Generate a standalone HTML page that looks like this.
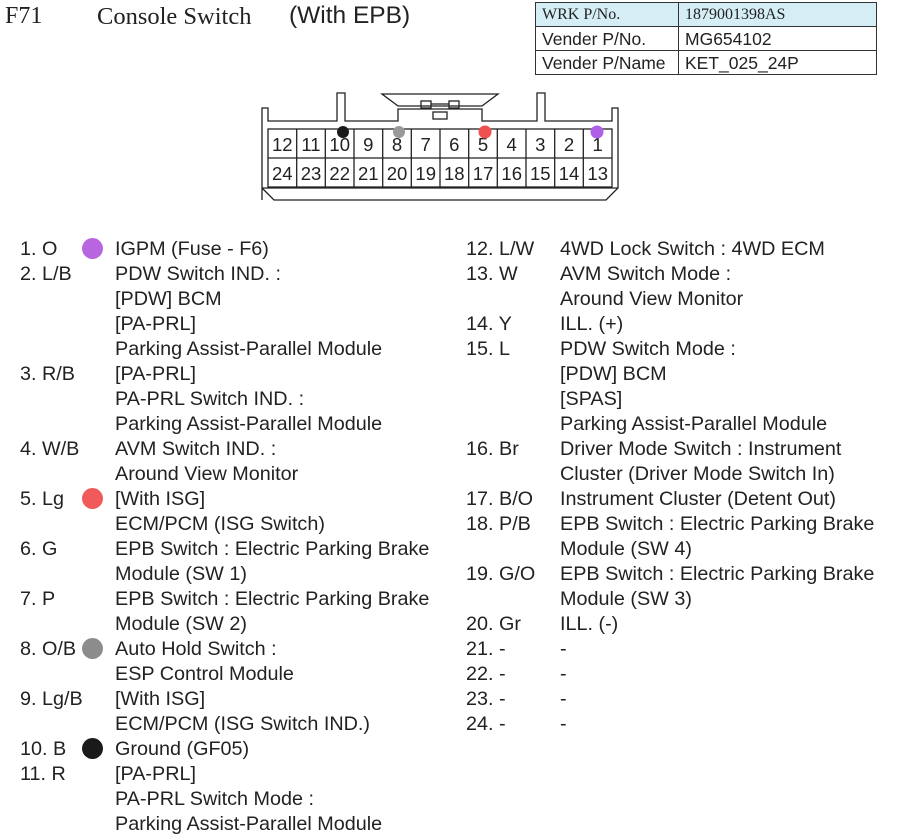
<!DOCTYPE html>
<html><head><meta charset="utf-8">
<style>
html,body{margin:0;padding:0;background:#fff;}
body{width:897px;height:837px;position:relative;overflow:hidden;font-family:"Liberation Sans",Arial,sans-serif;color:#222;}
.a{position:absolute;white-space:nowrap;}
.l{position:absolute;font-size:19.8px;line-height:25px;height:25px;white-space:nowrap;}
.dot{position:absolute;width:21px;height:21px;border-radius:50%;}
table{position:absolute;left:535px;top:2px;border-collapse:collapse;}
td{border:1px solid #333;height:23px;padding:0 0 0 6px;font-size:17.5px;line-height:20px;}
</style></head><body>
<div class="a" style="left:5px;top:3px;font-family:'Liberation Serif',serif;font-size:24px;">F71</div>
<div class="a" style="left:97px;top:3px;font-family:'Liberation Serif',serif;font-size:24.5px;">Console Switch</div>
<div class="a" style="left:289px;top:2px;font-size:24.5px;">(With EPB)</div>
<table>
<tr style="background:#d5eef6"><td style="width:136px;font-family:'Liberation Serif',serif;font-size:16px;">WRK P/No.</td><td style="width:191px;font-family:'Liberation Serif',serif;font-size:16px;">1879001398AS</td></tr>
<tr><td>Vender P/No.</td><td>MG654102</td></tr>
<tr><td>Vender P/Name</td><td>KET_025_24P</td></tr>
</table>
<svg class="a" style="left:0;top:0" width="897" height="220">
<g fill="none" stroke="#222" stroke-width="1.3">
<path d="M262,200 V108 H268 V121 H337 V93 H345 V121 H398 V109 H482 V121 H537 V93 H545 V121 H612 V108 H618 V188 L606,200 H274 L262,188"/>
<path d="M262,188 H618"/>
<path d="M382,94 H498 L482,106 H398 Z"/>
<rect x="421" y="101" width="10" height="7"/><rect x="449" y="101" width="10" height="7"/>
<path d="M431,104 H449"/>
<rect x="433" y="112" width="14" height="7"/>
<rect x="268" y="129" width="344" height="58"/>
<path d="M268,158 H612"/>
<path d="M296.7,129 V187 M325.3,129 V187 M354,129 V187 M382.7,129 V187 M411.3,129 V187 M440,129 V187 M468.7,129 V187 M497.3,129 V187 M526,129 V187 M554.7,129 V187 M583.3,129 V187"/>
</g>
<g font-family="Liberation Sans, Arial, sans-serif" font-size="18.5" fill="#222" text-anchor="middle">
<text x="282.3" y="151">12</text><text x="311" y="151">11</text><text x="339.7" y="151">10</text><text x="368.3" y="151">9</text><text x="397" y="151">8</text><text x="425.7" y="151">7</text><text x="454.3" y="151">6</text><text x="483" y="151">5</text><text x="511.7" y="151">4</text><text x="540.3" y="151">3</text><text x="569" y="151">2</text><text x="597.7" y="151">1</text>
<text x="282.3" y="180">24</text><text x="311" y="180">23</text><text x="339.7" y="180">22</text><text x="368.3" y="180">21</text><text x="397" y="180">20</text><text x="425.7" y="180">19</text><text x="454.3" y="180">18</text><text x="483" y="180">17</text><text x="511.7" y="180">16</text><text x="540.3" y="180">15</text><text x="569" y="180">14</text><text x="597.7" y="180">13</text>
</g>
<circle cx="343" cy="132" r="6" fill="#1a1a1a"/>
<circle cx="399" cy="132" r="6" fill="#999"/>
<circle cx="485" cy="132" r="6.5" fill="#f05050"/>
<circle cx="597" cy="132" r="6.5" fill="#b060e8"/>
</svg>

<div class="dot" style="left:82px;top:238px;background:#b865e0"></div>
<div class="dot" style="left:82px;top:488px;background:#f05a5a"></div>
<div class="dot" style="left:82px;top:638px;background:#8c8c8c"></div>
<div class="dot" style="left:82px;top:738px;background:#1a1a1a"></div>

<div class="l" style="left:20px;top:237px">1. O</div><div class="l" style="left:115px;top:237px">IGPM (Fuse - F6)</div>
<div class="l" style="left:20px;top:262px">2. L/B</div><div class="l" style="left:115px;top:262px">PDW Switch IND. :</div>
<div class="l" style="left:115px;top:287px">[PDW] BCM</div>
<div class="l" style="left:115px;top:312px">[PA-PRL]</div>
<div class="l" style="left:115px;top:337px">Parking Assist-Parallel Module</div>
<div class="l" style="left:20px;top:362px">3. R/B</div><div class="l" style="left:115px;top:362px">[PA-PRL]</div>
<div class="l" style="left:115px;top:387px">PA-PRL Switch IND. :</div>
<div class="l" style="left:115px;top:412px">Parking Assist-Parallel Module</div>
<div class="l" style="left:20px;top:437px">4. W/B</div><div class="l" style="left:115px;top:437px">AVM Switch IND. :</div>
<div class="l" style="left:115px;top:462px">Around View Monitor</div>
<div class="l" style="left:20px;top:487px">5. Lg</div><div class="l" style="left:115px;top:487px">[With ISG]</div>
<div class="l" style="left:115px;top:512px">ECM/PCM (ISG Switch)</div>
<div class="l" style="left:20px;top:537px">6. G</div><div class="l" style="left:115px;top:537px">EPB Switch : Electric Parking Brake</div>
<div class="l" style="left:115px;top:562px">Module (SW 1)</div>
<div class="l" style="left:20px;top:587px">7. P</div><div class="l" style="left:115px;top:587px">EPB Switch : Electric Parking Brake</div>
<div class="l" style="left:115px;top:612px">Module (SW 2)</div>
<div class="l" style="left:20px;top:637px">8. O/B</div><div class="l" style="left:115px;top:637px">Auto Hold Switch :</div>
<div class="l" style="left:115px;top:662px">ESP Control Module</div>
<div class="l" style="left:20px;top:687px">9. Lg/B</div><div class="l" style="left:115px;top:687px">[With ISG]</div>
<div class="l" style="left:115px;top:712px">ECM/PCM (ISG Switch IND.)</div>
<div class="l" style="left:20px;top:737px">10. B</div><div class="l" style="left:115px;top:737px">Ground (GF05)</div>
<div class="l" style="left:20px;top:762px">11. R</div><div class="l" style="left:115px;top:762px">[PA-PRL]</div>
<div class="l" style="left:115px;top:787px">PA-PRL Switch Mode :</div>
<div class="l" style="left:115px;top:812px">Parking Assist-Parallel Module</div>

<div class="l" style="left:466px;top:237px">12. L/W</div><div class="l" style="left:560px;top:237px">4WD Lock Switch : 4WD ECM</div>
<div class="l" style="left:466px;top:262px">13. W</div><div class="l" style="left:560px;top:262px">AVM Switch Mode :</div>
<div class="l" style="left:560px;top:287px">Around View Monitor</div>
<div class="l" style="left:466px;top:312px">14. Y</div><div class="l" style="left:560px;top:312px">ILL. (+)</div>
<div class="l" style="left:466px;top:337px">15. L</div><div class="l" style="left:560px;top:337px">PDW Switch Mode :</div>
<div class="l" style="left:560px;top:362px">[PDW] BCM</div>
<div class="l" style="left:560px;top:387px">[SPAS]</div>
<div class="l" style="left:560px;top:412px">Parking Assist-Parallel Module</div>
<div class="l" style="left:466px;top:437px">16. Br</div><div class="l" style="left:560px;top:437px">Driver Mode Switch : Instrument</div>
<div class="l" style="left:560px;top:462px">Cluster (Driver Mode Switch In)</div>
<div class="l" style="left:466px;top:487px">17. B/O</div><div class="l" style="left:560px;top:487px">Instrument Cluster (Detent Out)</div>
<div class="l" style="left:466px;top:512px">18. P/B</div><div class="l" style="left:560px;top:512px">EPB Switch : Electric Parking Brake</div>
<div class="l" style="left:560px;top:537px">Module (SW 4)</div>
<div class="l" style="left:466px;top:562px">19. G/O</div><div class="l" style="left:560px;top:562px">EPB Switch : Electric Parking Brake</div>
<div class="l" style="left:560px;top:587px">Module (SW 3)</div>
<div class="l" style="left:466px;top:612px">20. Gr</div><div class="l" style="left:560px;top:612px">ILL. (-)</div>
<div class="l" style="left:466px;top:637px">21. -</div><div class="l" style="left:560px;top:637px">-</div>
<div class="l" style="left:466px;top:662px">22. -</div><div class="l" style="left:560px;top:662px">-</div>
<div class="l" style="left:466px;top:687px">23. -</div><div class="l" style="left:560px;top:687px">-</div>
<div class="l" style="left:466px;top:712px">24. -</div><div class="l" style="left:560px;top:712px">-</div>
</body></html>
